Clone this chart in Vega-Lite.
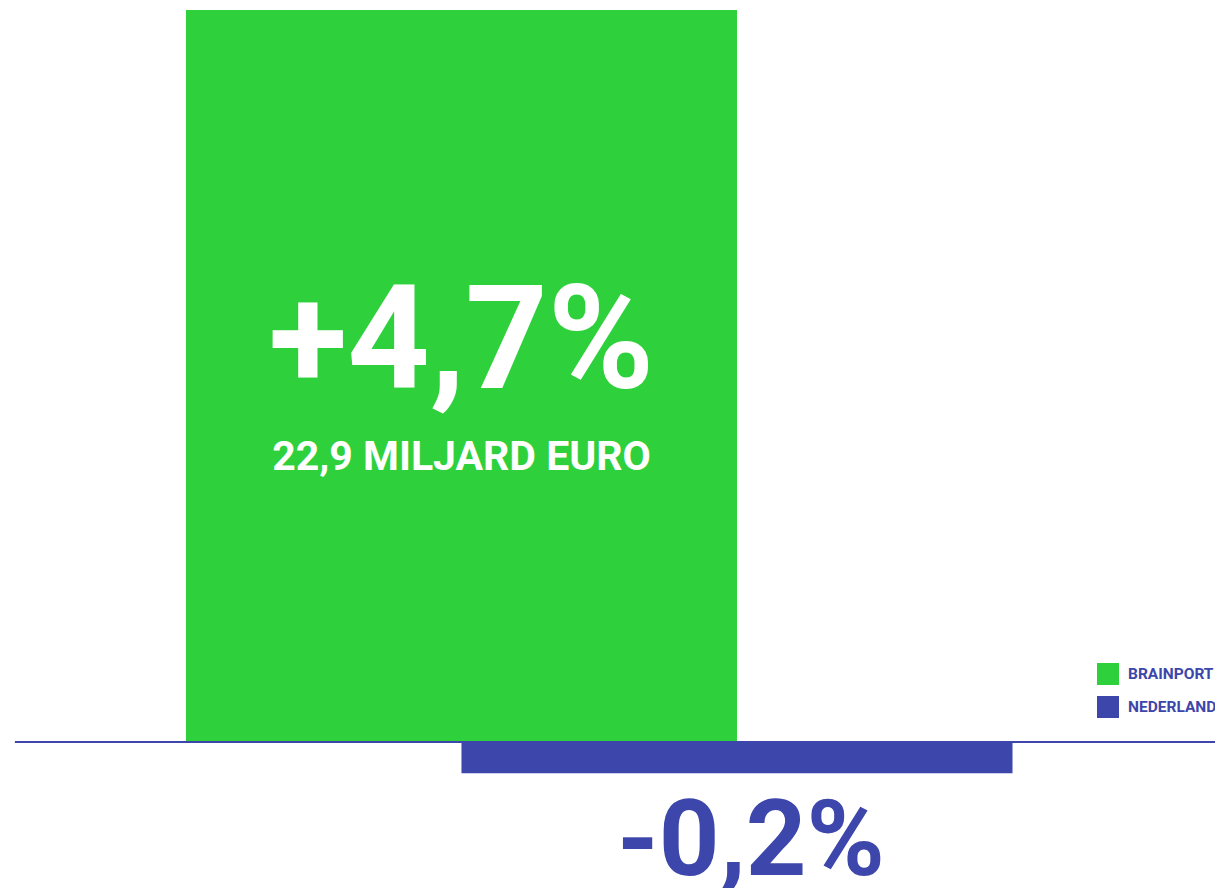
{
  "$schema": "https://vega.github.io/schema/vega-lite/v6.json",
  "width": 1215,
  "height": 888,
  "autosize": {"type": "none"},
  "padding": 0,
  "background": "white",
  "config": {"view": {"stroke": null}},
  "data": {
    "values": [
      {"region": "BRAINPORT", "start": 0, "end": 2, "mid": 1, "value": 4.7, "label": "+4,7%", "sub": "22,9 MILJARD EURO"},
      {"region": "NEDERLAND", "start": 1, "end": 3, "mid": 2, "value": -0.2, "label": "-0,2%", "sub": ""}
    ]
  },
  "layer": [
    {
      "mark": {"type": "bar"},
      "encoding": {
        "x": {"field": "start", "type": "quantitative", "scale": {"domain": [-0.675, 3.735], "nice": false, "zero": false}, "axis": null},
        "x2": {"field": "end"},
        "y": {"field": "value", "type": "quantitative", "scale": {"domain": [-0.9375, 4.764], "nice": false, "zero": false}, "axis": null},
        "y2": {"datum": 0},
        "color": {
          "field": "region", "type": "nominal",
          "scale": {"domain": ["BRAINPORT", "NEDERLAND"], "range": ["#2ED13B", "#3D46AA"]},
          "legend": {
            "orient": "none", "legendX": 1097, "legendY": 663, "title": null,
            "symbolType": "square", "symbolSize": 484, "symbolStrokeWidth": 0,
            "labelFont": "Roboto", "labelFontSize": 15.5, "labelFontWeight": "bold",
            "labelColor": "#3D46AA", "rowPadding": 11, "labelOffset": 9, "padding": 0
          }
        }
      }
    },
    {
      "data": {"values": [{"from": -0.621, "to": 3.735, "level": 0}]},
      "mark": {"type": "rule", "color": "#3D46AA", "strokeWidth": 2},
      "encoding": {
        "x": {"field": "from", "type": "quantitative"},
        "x2": {"field": "to"},
        "y": {"field": "level", "type": "quantitative"}
      }
    },
    {
      "transform": [{"filter": "datum.region == 'BRAINPORT'"}],
      "mark": {"type": "text", "font": "Roboto", "fontWeight": "bold", "fontSize": 144, "color": "white", "align": "center", "baseline": "alphabetic"},
      "encoding": {
        "x": {"field": "mid", "type": "quantitative"},
        "y": {"datum": 2.273, "type": "quantitative"},
        "text": {"field": "label"}
      }
    },
    {
      "transform": [{"filter": "datum.region == 'BRAINPORT'"}],
      "mark": {"type": "text", "font": "Roboto", "fontWeight": "bold", "fontSize": 41, "color": "white", "align": "center", "baseline": "alphabetic"},
      "encoding": {
        "x": {"field": "mid", "type": "quantitative"},
        "y": {"datum": 1.746, "type": "quantitative"},
        "text": {"field": "sub"}
      }
    },
    {
      "transform": [{"filter": "datum.region == 'NEDERLAND'"}],
      "mark": {"type": "text", "font": "Roboto", "fontWeight": "bold", "fontSize": 106, "color": "#3D46AA", "align": "center", "baseline": "alphabetic", "dx": 14},
      "encoding": {
        "x": {"field": "mid", "type": "quantitative"},
        "y": {"datum": -0.854, "type": "quantitative"},
        "text": {"field": "label"}
      }
    }
  ]
}
